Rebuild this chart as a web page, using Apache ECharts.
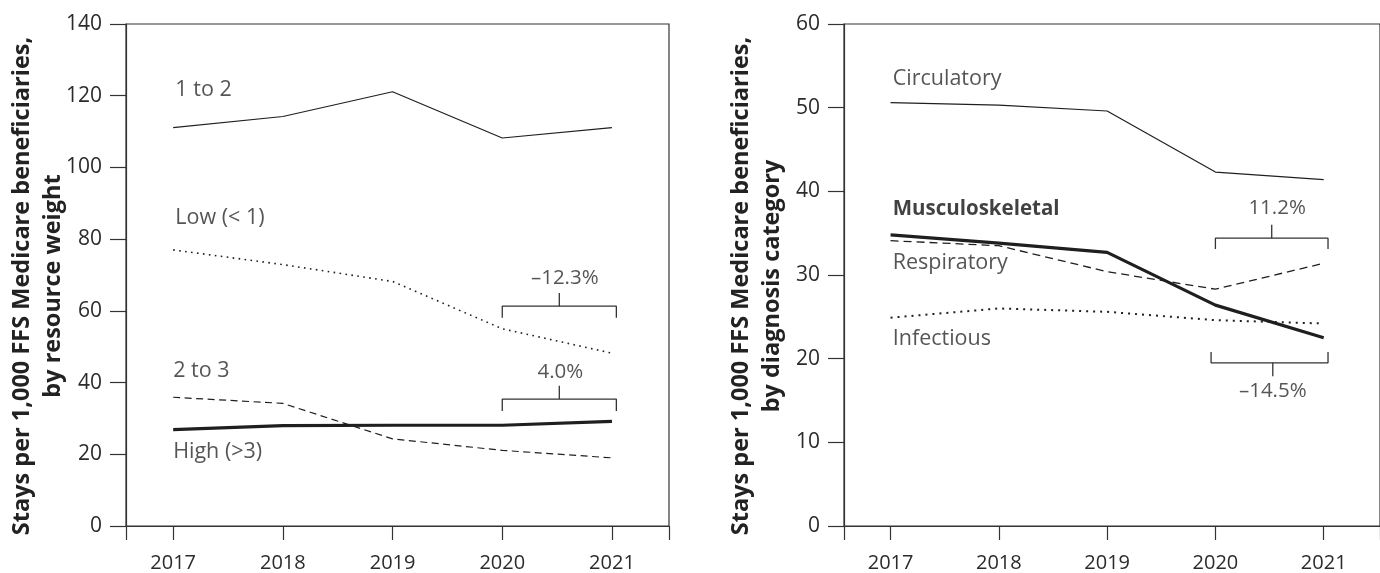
<!DOCTYPE html>
<html>
<head>
<meta charset="utf-8">
<title>Stays per 1,000 FFS Medicare beneficiaries</title>
<script src="https://cdn.jsdelivr.net/npm/echarts@6/dist/echarts.min.js"></script>
<style>
  html, body { margin: 0; padding: 0; background: #fff; }
  #main { width: 1380px; height: 573px; }
</style>
</head>
<body>
<div id="main"></div>
<script>
var years = [2017, 2018, 2019, 2020, 2021];

// left panel, by resource weight
var oneToTwo   = [111.1, 114.2, 121.1, 108.2, 111.1];
var lowWeight  = [77.0, 72.9, 68.2, 55.0, 48.2];
var twoToThree = [35.9, 34.2, 24.3, 21.1, 19.0];
var highWeight = [26.9, 28.0, 28.1, 28.1, 29.2];

// right panel, by diagnosis category
var circulatory     = [50.6, 50.3, 49.6, 42.3, 41.4];
var musculoskeletal = [34.8, 33.8, 32.7, 26.4, 22.5];
var respiratory     = [34.1, 33.5, 30.4, 28.3, 31.4];
var infectious      = [24.9, 26.0, 25.6, 24.6, 24.2];

// series names, written next to the lines [x, y, text]
var namesLeft  = [[2017.02, 121.5, '1 to 2'], [2017.02, 86.0, 'Low (< 1)'],
                  [2017.0, 43.4, '2 to 3'], [2017.0, 20.8, 'High (>3)']];
var namesRight = [[2017.02, 53.4, 'Circulatory'], [2017.02, 37.9, 'Musculoskeletal'],
                  [2017.02, 31.4, 'Respiratory'], [2017.02, 22.4, 'Infectious']];

// change brackets 2020 -> 2021
var bracketsLeft = [
    { from: 2020, to: 2021.04, bar: 61.3, end: 58.1, mid: 2020.52, tip: 65.0 },
    { from: 2020, to: 2021.04, bar: 35.4, end: 32.1, mid: 2020.52, tip: 39.1 }
];
var changesLeft = [[2020.57, 69.2, '\u201312.3%'], [2020.53, 42.8, '4.0%']];
var bracketsRight = [
    { from: 2020, to: 2021.04, bar: 34.4, end: 33.1, mid: 2020.52, tip: 36.0 },
    { from: 2019.96, to: 2021.04, bar: 19.5, end: 20.8, mid: 2020.53, tip: 17.9 }
];
var changesRight = [[2020.57, 38.0, '11.2%'], [2020.53, 16.1, '\u201314.5%']];

var titleLeft  = 'Stays per 1,000 FFS Medicare beneficiaries,\nby resource weight';
var titleRight = 'Stays per 1,000 FFS Medicare beneficiaries,\nby diagnosis category';

var ink = '#1f1f1f';
var textColor = '#2b2b2b';
var labelFont = 'Open Sans';

var thin   = { color: ink, width: 1.2, type: 'solid' };
var thick  = { color: ink, width: 3.2, type: 'solid' };
var dotted = { color: ink, width: 1.6, type: [1.6, 4.4] };
var dashed = { color: ink, width: 1.2, type: [7, 4.5] };

function lineSeries(idx, values, style) {
    return {
        type: 'line',
        xAxisIndex: idx, yAxisIndex: idx,
        data: years.map(function (y, i) { return [y, values[i]]; }),
        symbol: 'none',
        silent: true,
        lineStyle: style,
        z: 3
    };
}

function bracketSeries(idx, b) {
    var style = { color: '#333', width: 1.3 };
    return [{
        type: 'line', xAxisIndex: idx, yAxisIndex: idx, symbol: 'none', silent: true,
        lineStyle: style,
        data: [[b.from, b.end], [b.from, b.bar], [b.to, b.bar], [b.to, b.end]]
    }, {
        type: 'line', xAxisIndex: idx, yAxisIndex: idx, symbol: 'none', silent: true,
        lineStyle: style,
        data: [[b.mid, b.bar], [b.mid, b.tip]]
    }];
}

function textSeries(idx, items, position, boldName) {
    return {
        type: 'scatter',
        xAxisIndex: idx, yAxisIndex: idx,
        symbolSize: 0,
        silent: true,
        z: 5,
        data: items.map(function (t) {
            var d = { value: [t[0], t[1]], name: t[2] };
            if (t[2] === boldName) {
                d.label = { fontWeight: 'bold', color: '#111', fontSize: 20.5 };
            }
            return d;
        }),
        label: {
            show: true,
            position: position,
            distance: 0,
            formatter: '{b}',
            fontFamily: labelFont,
            fontSize: position === 'inside' ? 20.5 : 21.5,
            color: textColor
        }
    };
}

function xAxis(idx) {
    return {
        type: 'value',
        gridIndex: idx,
        min: 2016.57,
        max: 2021.52,
        splitLine: { show: false },
        axisLine: { lineStyle: { color: '#333', width: 1.2 } },
        axisTick: {
            length: 14,
            lineStyle: { color: '#333', width: 1.2 },
            customValues: [2016.57].concat(years, [2021.52])
        },
        axisLabel: {
            customValues: years,
            margin: 27,
            fontFamily: labelFont,
            fontSize: 20,
            color: textColor,
            formatter: function (v) { return String(v); }
        }
    };
}

function yAxis(idx, max, interval) {
    return {
        type: 'value',
        gridIndex: idx,
        min: 0,
        max: max,
        interval: interval,
        splitLine: { show: false },
        axisLine: { show: true, lineStyle: { color: '#333', width: 1.2 } },
        axisTick: { show: true, length: 16, lineStyle: { color: '#333', width: 1.2 } },
        axisLabel: {
            margin: 24,
            fontFamily: labelFont,
            fontSize: 21,
            color: textColor
        }
    };
}

function axisTitle(x, text) {
    return {
        type: 'text',
        x: x,
        y: 286,
        rotation: Math.PI / 2,
        silent: true,
        style: {
            text: text,
            fontFamily: labelFont,
            fontWeight: 'bold',
            fontSize: 23.5,
            lineHeight: 31,
            fill: '#222',
            align: 'center',
            verticalAlign: 'middle'
        }
    };
}

var chart = echarts.init(document.getElementById('main'));

var series = [
    lineSeries(0, oneToTwo, thin),
    lineSeries(0, lowWeight, dotted),
    lineSeries(0, twoToThree, dashed),
    lineSeries(0, highWeight, thick),
    lineSeries(1, circulatory, thin),
    lineSeries(1, respiratory, { color: ink, width: 1.3, type: [8, 5] }),
    lineSeries(1, infectious, { color: ink, width: 2, type: [2, 5] }),
    lineSeries(1, musculoskeletal, thick),
    textSeries(0, namesLeft, 'right'),
    textSeries(1, namesRight, 'right', 'Musculoskeletal'),
    textSeries(0, changesLeft, 'inside'),
    textSeries(1, changesRight, 'inside')
];
bracketsLeft.forEach(function (b) { series = series.concat(bracketSeries(0, b)); });
bracketsRight.forEach(function (b) { series = series.concat(bracketSeries(1, b)); });

chart.setOption({
    animation: false,
    backgroundColor: '#fff',
    grid: [
        { left: 126, top: 24, width: 543, height: 505, show: true, borderColor: '#333', borderWidth: 1.2 },
        { left: 844, top: 24, width: 543, height: 505, show: true, borderColor: '#333', borderWidth: 1.2 }
    ],
    xAxis: [xAxis(0), xAxis(1)],
    yAxis: [yAxis(0, 140, 20), yAxis(1, 60, 10)],
    graphic: [axisTitle(38, titleLeft), axisTitle(757, titleRight)],
    series: series
});
</script>
</body>
</html>
